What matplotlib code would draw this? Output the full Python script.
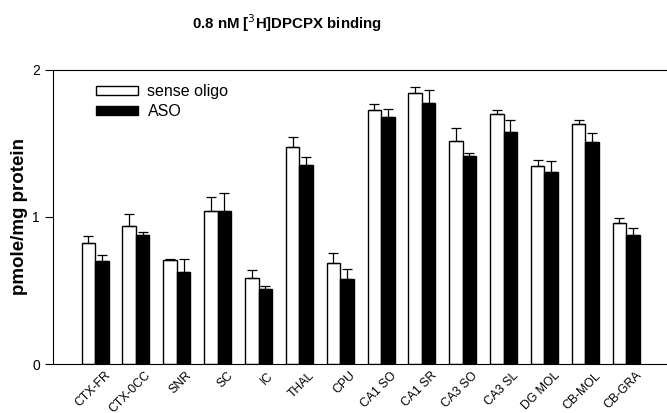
import numpy as np
import matplotlib.pyplot as plt
from matplotlib.transforms import ScaledTranslation

plt.rcParams['font.family'] = ['Liberation Sans', 'DejaVu Sans']

# regions and binding values (pmole/mg protein)
regions = ['CTX-FR', 'CTX-0CC', 'SNR', 'SC', 'IC', 'THAL', 'CPU',
           'CA1 SO', 'CA1 SR', 'CA3 SO', 'CA3 SL', 'DG MOL', 'CB-MOL', 'CB-GRA']
sense = [0.825, 0.937, 0.710, 1.041, 0.587, 1.474, 0.689,
         1.730, 1.841, 1.519, 1.698, 1.345, 1.630, 0.959]
sense_err = [0.043, 0.085, 0.005, 0.093, 0.052, 0.068, 0.064,
             0.040, 0.040, 0.084, 0.027, 0.040, 0.030, 0.034]
aso = [0.703, 0.880, 0.626, 1.041, 0.510, 1.356, 0.580,
       1.682, 1.773, 1.417, 1.580, 1.304, 1.510, 0.878]
aso_err = [0.036, 0.020, 0.090, 0.125, 0.020, 0.050, 0.064,
           0.055, 0.090, 0.020, 0.080, 0.080, 0.060, 0.050]

x = np.arange(len(regions))
w = 0.33

fig = plt.figure(figsize=(6.67, 4.13), dpi=100)
ax = fig.add_axes([0.0795, 0.1186, 0.9205, 0.712])

err_kw = dict(ecolor='black', elinewidth=0.9, capsize=3.5, capthick=0.9)
ax.bar(x - w/2, sense, w, color='white', edgecolor='black', linewidth=1,
       yerr=[np.zeros(len(x)), sense_err], error_kw=err_kw, label='sense oligo')
ax.bar(x + w/2, aso, w, color='black', edgecolor='black', linewidth=1,
       yerr=[np.zeros(len(x)), aso_err], error_kw=err_kw, label='ASO')

ax.set_xlim(-1.03, 14.0)
ax.set_ylim(0, 2)
ax.set_yticks([0, 1, 2])
ax.tick_params(axis='y', labelsize=10, direction='out', length=6)
ax.set_xticks(x)
ax.set_xticklabels(regions, rotation=45, ha='right', rotation_mode='anchor',
                   fontsize=8.8)
ax.tick_params(axis='x', length=0, pad=4)
shift = ScaledTranslation(0.09, 0, fig.dpi_scale_trans)
for lab in ax.get_xticklabels():
    lab.set_transform(lab.get_transform() + shift)
ax.spines['right'].set_visible(False)
ax.set_ylabel('pmole/mg protein', fontsize=13.5, fontweight='bold', labelpad=3)

ax.legend(loc='upper left', bbox_to_anchor=(0.055, 0.985), frameon=False,
          fontsize=11.5, handlelength=2.6, handleheight=0.5, labelspacing=0.3,
          handletextpad=0.6, borderaxespad=0.2)

fig.text(287/667, 1 - 23/413, r'0.8 nM [$^3$H]DPCPX binding', ha='center',
         va='center', fontsize=10.8, fontweight='bold')

fig.savefig('out.png', dpi=100)
